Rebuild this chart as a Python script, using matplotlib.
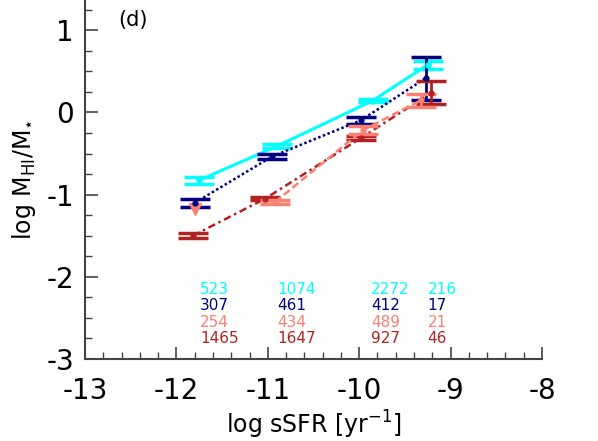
import matplotlib
matplotlib.use("Agg")
import matplotlib.pyplot as plt
from matplotlib.ticker import MultipleLocator

# ---- data ----
# cyan (solid)
x_cyan = [-11.75, -10.90, -9.85, -9.25]
y_cyan = [-0.825, -0.41, 0.145, 0.58]
lo_cyan = [-0.87, -0.43, 0.126, 0.53]
hi_cyan = [-0.78, -0.39, 0.165, 0.63]

# navy (dotted)
x_navy = [-11.80, -10.95, -9.98, -9.27]
y_navy = [-1.10, -0.535, -0.095, 0.42]
lo_navy = [-1.15, -0.57, -0.14, 0.154]
hi_navy = [-1.05, -0.50, -0.05, 0.68]

# salmon (dashed); first point is an upper limit
x_salmon_lim = [-11.80]
y_salmon_lim = [-1.18]
x_salmon = [-10.92, -9.96, -9.32]
y_salmon = [-1.09, -0.215, 0.15]
lo_salmon = [-1.12, -0.26, 0.07]
hi_salmon = [-1.06, -0.17, 0.22]

# firebrick (dash-dot)
x_brown = [-11.82, -11.03, -9.98, -9.21]
y_brown = [-1.50, -1.05, -0.31, 0.24]
lo_brown = [-1.53, -1.07, -0.33, 0.10]
hi_brown = [-1.47, -1.03, -0.29, 0.385]

# sample counts
count_x = [-11.74, -10.90, -9.87, -9.25]
n_cyan = [523, 1074, 2272, 216]
n_navy = [307, 461, 412, 17]
n_salmon = [254, 434, 489, 21]
n_brown = [1465, 1647, 927, 46]

c_cyan = '#00FFFF'
c_navy = '#000080'
c_salmon = '#FA8072'
c_brown = '#B22222'

fig = plt.figure(figsize=(5.98, 4.41), dpi=100)
ax = fig.add_axes([85/598, 1-359/441, (542-85)/598, 359/441])


def series(x, y, lo, hi, color, ls, lw):
    yerr = [[yy - l for yy, l in zip(y, lo)], [h - yy for yy, h in zip(y, hi)]]
    ax.plot(x, y, color=color, ls=ls, lw=lw)
    ax.errorbar(x, y, yerr=yerr, fmt='o', ms=3.5, color=color, ecolor=color,
                elinewidth=2, capsize=11, capthick=2.5)


series(x_cyan, y_cyan, lo_cyan, hi_cyan, c_cyan, '-', 2.2)
series(x_navy, y_navy, lo_navy, hi_navy, c_navy, (0, (1, 1)), 1.8)
series(x_brown, y_brown, lo_brown, hi_brown, c_brown, (0, (3, 1.5, 1, 1.5)), 1.8)
series(x_salmon, y_salmon, lo_salmon, hi_salmon, c_salmon, (0, (3, 1.5)), 1.8)
ax.plot(x_salmon_lim, y_salmon_lim, marker='v', ms=8, color=c_salmon, ls='none')

row_y = [-2.15, -2.345, -2.55, -2.755]
for vals, col, yy in zip([n_cyan, n_navy, n_salmon, n_brown],
                         [c_cyan, c_navy, c_salmon, c_brown], row_y):
    for xx, v in zip(count_x, vals):
        ax.text(xx, yy, str(v), color=col, fontsize=11, ha='left', va='center')

ax.text(-12.64, 1.13, '(d)', fontsize=15, ha='left', va='center')

ax.set_xlim(-13, -8)
ax.set_ylim(-3, 1.368)
ax.xaxis.set_major_locator(MultipleLocator(1))
ax.xaxis.set_minor_locator(MultipleLocator(0.2))
ax.yaxis.set_major_locator(MultipleLocator(1))
ax.yaxis.set_minor_locator(MultipleLocator(0.25))
ax.set_xticks([-13, -12, -11, -10, -9, -8])
ax.set_xticklabels(['-13', '-12', '-11', '-10', '-9', '-8'])
ax.set_yticks([-3, -2, -1, 0, 1])
ax.set_yticklabels(['-3', '-2', '-1', '0', '1'])

for s in ['top', 'right']:
    ax.spines[s].set_visible(False)
for s in ['left', 'bottom']:
    ax.spines[s].set_color('#444444')
    ax.spines[s].set_linewidth(1.5)

ax.tick_params(which='major', direction='in', length=9, width=1.2, color='#444444',
               labelsize=20, pad=8)
ax.tick_params(axis='x', which='major', pad=13)
ax.tick_params(which='minor', direction='in', length=5, width=1.0, color='#444444')

ax.set_xlabel(r'log sSFR [yr$^{\mathregular{-1}}$]', fontsize=17, labelpad=3)
ax.set_ylabel(r'log M$_{\mathregular{HI}}$/M$_{\star}$', fontsize=17, labelpad=6)

fig.savefig('out.png', dpi=100)
